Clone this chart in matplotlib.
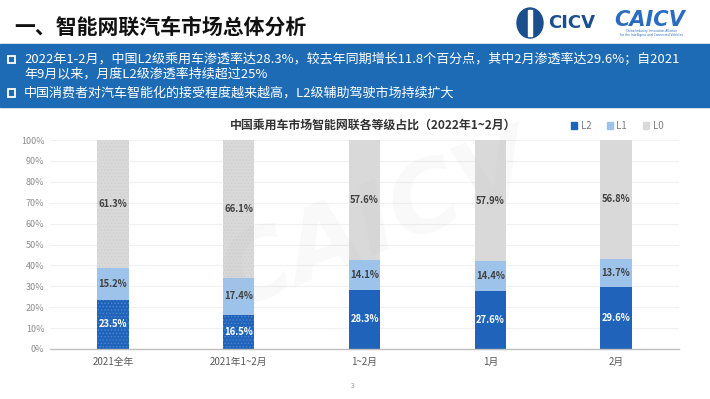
import matplotlib.pyplot as plt
from matplotlib.patches import Rectangle, Ellipse
import numpy as np

plt.rcParams['font.family'] = ['Noto Sans CJK SC', 'DejaVu Sans']

categories = ['2021全年', '2021年1~2月', '1~2月', '1月', '2月']
l2 = [23.5, 16.5, 28.3, 27.6, 29.6]
l1 = [15.2, 17.4, 14.1, 14.4, 13.7]
l0 = [61.3, 66.1, 57.6, 57.9, 56.8]
dotted = [True, True, False, False, False]
yticks = [0, 10, 20, 30, 40, 50, 60, 70, 80, 90, 100]

page_title = '一、智能网联汽车市场总体分析'
chart_title = '中国乘用车市场智能网联各等级占比（2022年1~2月）'
bullets = [
    '2022年1-2月，中国L2级乘用车渗透率达28.3%，较去年同期增长11.8个百分点，其中2月渗透率达29.6%；自2021',
    '年9月以来，月度L2级渗透率持续超过25%',
    '中国消费者对汽车智能化的接受程度越来越高，L2级辅助驾驶市场持续扩大',
]

C_L2 = '#1f64ba'
C_L1 = '#9dc3ea'
C_L0 = '#d9d9d9'
BANNER = '#1d6bb5'

W, H = 710, 399
fig = plt.figure(figsize=(W / 100, H / 100), dpi=100)


def fx(px):
    return px / W


def fy(py):
    return 1 - py / H


# header
fig.text(fx(14), fy(27), page_title, fontsize=15, fontweight='bold',
         color='#111111', ha='left', va='center')

# logos (rough approximation)
fig.patches.append(Ellipse((fx(530), fy(23)), fx(26), 30 / H, color='#1b4e8c',
                           transform=fig.transFigure, figure=fig))
fig.patches.append(Rectangle((fx(528), fy(36)), fx(4), 26 / H, color='white',
                             transform=fig.transFigure, figure=fig))
fig.text(fx(548), fy(23), 'CICV', fontsize=13, fontweight='bold',
         color='#1b4e8c', ha='left', va='center', family='DejaVu Sans')
fig.text(fx(650), fy(20), 'CAICV', fontsize=15, fontweight='bold', style='italic',
         color='#2a6cc0', ha='center', va='center', family='DejaVu Sans')
fig.text(fx(652), fy(33), 'China Industry Innovation Alliance\nfor the Intelligent and Connected Vehicles',
         fontsize=2.2, color='#2a6cc0', ha='center', va='center', family='DejaVu Sans',
         linespacing=1.0)

# blue banner
fig.patches.append(Rectangle((0, fy(107)), 1, 63 / H, color=BANNER,
                             transform=fig.transFigure, figure=fig, zorder=0))
line_y = [59.5, 73.5, 93]
for i, (txt, yy) in enumerate(zip(bullets, line_y)):
    fig.text(fx(24), fy(yy), txt, fontsize=9.4, color='white',
             ha='left', va='center')
    if i != 1:
        fig.patches.append(Rectangle((fx(7.5), fy(yy + 3.5)), fx(7), 7 / H,
                                     fill=False, edgecolor='white', linewidth=1.3,
                                     transform=fig.transFigure, figure=fig))

# chart
ax = fig.add_axes([fx(50), fy(349), fx(679) - fx(50), (349 - 140) / H])
x = np.arange(len(categories))
width = 0.25

plt.rcParams['hatch.linewidth'] = 0.6
for i in range(len(categories)):
    h2 = '.....' if dotted[i] else None
    ax.bar(x[i], l2[i], width, color=C_L2, edgecolor='#4f86cf' if dotted[i] else C_L2,
           linewidth=0, hatch=h2, zorder=2)
    ax.bar(x[i], l1[i], width, bottom=l2[i], color=C_L1, linewidth=0, zorder=2)
    ax.bar(x[i], l0[i], width, bottom=l2[i] + l1[i], color=C_L0,
           edgecolor='#cfcfcf' if dotted[i] else C_L0, linewidth=0,
           hatch='.....' if dotted[i] else None, zorder=2)
    ax.text(x[i], l2[i] / 2, f'{l2[i]}%', ha='center', va='center',
            fontsize=6.8, fontweight='bold', color='white', zorder=4)
    ax.text(x[i], l2[i] + l1[i] / 2, f'{l1[i]}%', ha='center', va='center',
            fontsize=6.8, fontweight='bold', color='#404040', zorder=4)
    ax.text(x[i], l2[i] + l1[i] + l0[i] / 2, f'{l0[i]}%', ha='center', va='center',
            fontsize=6.8, fontweight='bold', color='#404040', zorder=4)

ax.set_xlim(-0.5, len(categories) - 0.5)
ax.set_ylim(0, 100)
ax.set_yticks(yticks)
ax.set_yticklabels([f'{v}%' for v in yticks], fontsize=6.5, style='italic',
                   color='#8c8c8c')
ax.set_xticks(x)
ax.set_xticklabels(categories, fontsize=7, color='#595959')
ax.tick_params(length=0)
ax.tick_params(axis='x', pad=6)
ax.tick_params(axis='y', pad=4)
ax.grid(axis='y', color='#f0f0f0', linewidth=0.8, zorder=0)
ax.set_axisbelow(True)
for s in ['top', 'right', 'left']:
    ax.spines[s].set_visible(False)
ax.spines['bottom'].set_color('#bfbfbf')
ax.spines['bottom'].set_linewidth(1)

# faint watermark
ax.text(2.1, 60, 'CAICV', fontsize=70, fontweight='bold', style='italic',
        color='#c0c0c0', alpha=0.09, rotation=22, ha='center', va='center',
        family='DejaVu Sans', zorder=3)

fig.text(fx(373), fy(125), chart_title, fontsize=8.6, fontweight='bold',
         color='#333333', ha='center', va='center')

handles = [Rectangle((0, 0), 1, 1, color=c) for c in (C_L2, C_L1, C_L0)]
fig.legend(handles, ['L2', 'L1', 'L0'], loc='center left',
           bbox_to_anchor=(fx(566), fy(126)), ncol=3, frameon=False,
           fontsize=7, labelcolor='#7f7f7f', handlelength=0.6, handleheight=0.6,
           handletextpad=0.4, columnspacing=1.6, borderpad=0)

fig.text(fx(353), fy(386), '3', fontsize=5, color='#999999', ha='center', va='center')

fig.savefig('out.png', dpi=100)
